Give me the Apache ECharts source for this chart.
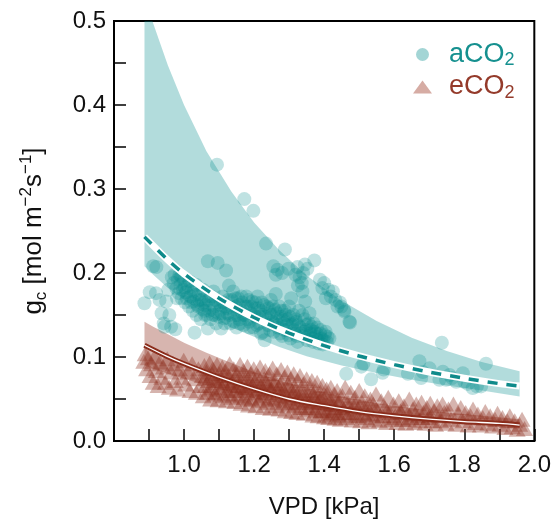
<!DOCTYPE html>
<html><head><meta charset="utf-8">
<script src="https://cdn.jsdelivr.net/npm/echarts@6/dist/echarts.min.js"></script>
<style>html,body{margin:0;padding:0;background:#fff}#c{width:554px;height:524px}</style>
</head><body><div id="c"></div>
<script>
// ---- data ----
const xTickLabels = ['1.0','1.2','1.4','1.6','1.8','2.0'];
const yTickLabels = ['0.0','0.1','0.2','0.3','0.4','0.5'];

// fitted curves
const fitVpd   = [0.887,0.95,1.0,1.1,1.2,1.3,1.4,1.5,1.6,1.7,1.8,1.9,1.958];
const aco2Fit  = [0.243,0.217,0.199,0.170,0.147,0.1285,0.1136,0.1012,0.0909,0.0821,0.0747,0.0683,0.0655];
const eco2Fit  = [0.114,0.101,0.092,0.076,0.062,0.050,0.042,0.035,0.030,0.026,0.023,0.021,0.019];

// confidence bands
const bandVpd    = [0.887,0.912,0.954,1.0,1.064,1.135,1.2,1.272,1.35,1.45,1.55,1.65,1.75,1.85,1.958];
const aco2Upper  = [0.530,0.497,0.447,0.400,0.345,0.297,0.260,0.227,0.197,0.167,0.143,0.123,0.107,0.094,0.083];
const aco2Lower  = [0.208,0.198,0.182,0.168,0.151,0.135,0.124,0.112,0.101,0.090,0.081,0.073,0.066,0.060,0.053];
const eco2Upper  = [0.142,0.136,0.127,0.117,0.105,0.093,0.082,0.072,0.063,0.053,0.045,0.039,0.034,0.030,0.026];
const eco2Lower  = [0.090,0.086,0.080,0.074,0.066,0.058,0.051,0.045,0.039,0.033,0.028,0.024,0.021,0.018,0.015];

// observations aCO2 [VPD, gc]
const aco2Points = [
[0.887,0.164],[0.902,0.177],[0.912,0.208],[0.921,0.207],[0.920,0.176],[0.930,0.168],[0.936,0.152],[0.949,0.166],[0.942,0.140],[0.944,0.136],[0.958,0.150],[0.963,0.136],[0.975,0.133],[0.955,0.180],
[0.965,0.195],[0.970,0.188],[0.973,0.198],[0.978,0.182],[0.982,0.192],[0.985,0.176],[0.987,0.198],[0.990,0.186],[0.993,0.170],[0.997,0.180],[1.000,0.191],[1.003,0.165],[1.006,0.177],[1.010,0.185],[1.014,0.160],[1.018,0.172],[1.022,0.180],[1.025,0.155],[1.028,0.166],[1.032,0.174],[1.036,0.150],[1.040,0.160],[1.044,0.168],[1.030,0.129],[1.048,0.145],[1.052,0.157],[1.056,0.165],[1.060,0.150],[1.064,0.172],[1.068,0.134],[1.068,0.214],[1.072,0.155],[1.076,0.145],[1.080,0.162],[1.084,0.178],[1.088,0.150],[1.092,0.140],[1.094,0.329],[1.096,0.212],[1.098,0.165],[1.102,0.155],[1.106,0.134],[1.110,0.172],[1.114,0.146],[1.118,0.160],[1.120,0.203],[1.124,0.152],[1.128,0.185],[1.132,0.140],[1.136,0.168],[1.140,0.178],[1.144,0.150],[1.148,0.160],[1.150,0.135],[1.154,0.170],[1.158,0.145],[1.162,0.155],[1.166,0.165],[1.170,0.138],[1.172,0.288],[1.174,0.150],[1.178,0.172],[1.182,0.160],[1.186,0.142],[1.190,0.152],[1.194,0.166],[1.198,0.274],[1.198,0.135],[1.202,0.158],[1.206,0.148],[1.210,0.172],[1.214,0.140],[1.218,0.155],[1.222,0.165],[1.226,0.130],[1.230,0.120],[1.232,0.148],[1.234,0.235],[1.236,0.160],[1.240,0.138],[1.244,0.152],[1.248,0.168],[1.252,0.142],[1.256,0.130],[1.260,0.156],[1.262,0.175],[1.264,0.145],[1.267,0.204],[1.268,0.135],[1.272,0.160],[1.276,0.148],[1.280,0.125],[1.284,0.140],[1.288,0.228],[1.288,0.155],[1.292,0.132],[1.296,0.145],[1.300,0.160],[1.304,0.122],[1.306,0.170],[1.308,0.138],[1.312,0.150],[1.316,0.128],[1.320,0.142],[1.324,0.207],[1.324,0.118],[1.328,0.155],[1.332,0.135],[1.336,0.188],[1.338,0.178],[1.340,0.200],[1.340,0.125],[1.344,0.145],[1.346,0.166],[1.348,0.132],[1.352,0.120],[1.356,0.140],[1.358,0.152],[1.360,0.128],[1.364,0.136],[1.368,0.118],[1.372,0.215],[1.372,0.130],[1.376,0.124],[1.380,0.135],[1.384,0.116],[1.388,0.128],[1.392,0.122],[1.396,0.115],[1.400,0.188],[1.402,0.126],[1.408,0.118],[1.415,0.122],[1.419,0.172],[1.425,0.178],[1.432,0.168],[1.438,0.160],[1.445,0.165],[1.449,0.160],[1.457,0.156],[1.458,0.154],[1.472,0.142],[1.474,0.141],[1.412,0.180],[1.405,0.170],[1.395,0.182],[1.388,0.192],[1.330,0.195],[1.325,0.185],[1.318,0.198],[1.345,0.210],[1.352,0.205],[1.298,0.205],[1.280,0.200],[1.262,0.198],[1.255,0.208],
[0.980,0.170],[0.992,0.196],[1.002,0.183],[1.008,0.170],[1.016,0.190],[1.020,0.165],[1.027,0.178],[1.034,0.186],[1.038,0.162],[1.042,0.175],[1.050,0.168],[1.054,0.180],[1.058,0.155],[1.062,0.162],[1.066,0.150],[1.070,0.168],[1.078,0.172],[1.082,0.150],[1.086,0.160],[1.090,0.168],[1.100,0.148],[1.104,0.162],[1.108,0.152],[1.112,0.165],[1.116,0.140],[1.122,0.158],[1.126,0.168],[1.130,0.150],[1.138,0.158],[1.142,0.142],[1.146,0.170],[1.152,0.150],[1.156,0.162],[1.160,0.140],[1.164,0.172],[1.168,0.150],[1.176,0.160],[1.180,0.145],[1.184,0.168],[1.188,0.135],[1.192,0.160],[1.200,0.150],[1.204,0.165],[1.208,0.138],[1.212,0.158],[1.216,0.148],[1.220,0.128],[1.224,0.150],[1.228,0.162],[1.238,0.145],[1.242,0.158],[1.246,0.132],[1.250,0.150],[1.254,0.160],[1.258,0.140],[1.266,0.152],[1.270,0.138],[1.274,0.128],[1.278,0.155],[1.282,0.145],[1.286,0.132],[1.290,0.150],[1.294,0.138],[1.298,0.126],[1.302,0.148],[1.310,0.140],[1.314,0.132],[1.318,0.145],[1.322,0.125],[1.326,0.138],[1.334,0.128],[1.338,0.150],[1.342,0.130],[1.350,0.138],[1.354,0.125],[1.362,0.132],[1.366,0.122],[1.370,0.140],[1.378,0.128],[1.382,0.120],[1.390,0.132],[1.398,0.120],[1.404,0.130],[1.410,0.124],
[1.463,0.080],[1.506,0.0885],[1.512,0.092],[1.534,0.0734],[1.567,0.0813],[1.570,0.085],[1.639,0.080],[1.672,0.095],[1.677,0.075],[1.682,0.082],[1.701,0.0865],[1.729,0.073],[1.736,0.117],[1.739,0.0825],[1.748,0.073],[1.758,0.0786],[1.765,0.075],[1.777,0.0706],[1.796,0.0806],[1.800,0.0706],[1.810,0.068],[1.824,0.063],[1.836,0.065],[1.848,0.065],[1.862,0.092]
];

// observations eCO2 [VPD, gc]
const eco2Points = [
[0.885,0.095],[0.889,0.104],[0.893,0.086],[0.898,0.099],[0.903,0.078],[0.907,0.092],[0.912,0.070],[0.916,0.101],[0.921,0.084],[0.926,0.066],[0.931,0.094],[0.936,0.076],[0.941,0.088],[0.947,0.070],[0.952,0.098],[0.958,0.064],[0.963,0.082],[0.969,0.092],[0.975,0.072],[0.981,0.062],[0.987,0.086],[0.993,0.076],[0.999,0.096],[1.005,0.068],[1.011,0.082],[1.017,0.060],[1.023,0.092],[1.029,0.074],[1.035,0.058],[1.041,0.086],[1.047,0.066],
[1.052,0.078],[1.055,0.054],[1.058,0.090],[1.061,0.066],[1.064,0.082],[1.067,0.058],[1.070,0.072],[1.073,0.093],[1.076,0.050],[1.079,0.064],[1.082,0.086],[1.085,0.076],[1.088,0.056],[1.091,0.070],[1.094,0.091],[1.097,0.049],[1.100,0.080],[1.103,0.062],[1.106,0.074],[1.109,0.088],[1.112,0.054],[1.115,0.068],[1.118,0.084],[1.121,0.048],[1.124,0.060],[1.127,0.078],[1.130,0.092],[1.133,0.066],[1.136,0.052],[1.139,0.072],[1.142,0.086],[1.145,0.047],[1.148,0.062],
[1.151,0.080],[1.154,0.056],[1.157,0.070],[1.160,0.091],[1.163,0.045],[1.166,0.064],[1.169,0.084],[1.172,0.052],[1.175,0.074],[1.178,0.060],[1.181,0.089],[1.184,0.043],[1.187,0.068],[1.190,0.080],[1.193,0.050],[1.196,0.058],[1.199,0.086],[1.202,0.072],[1.205,0.042],[1.208,0.062],[1.211,0.078],[1.214,0.048],[1.217,0.088],[1.220,0.066],[1.223,0.054],[1.226,0.040],[1.229,0.074],[1.232,0.084],[1.235,0.058],[1.238,0.046],[1.241,0.068],[1.244,0.080],[1.247,0.039],
[1.250,0.062],[1.253,0.087],[1.256,0.050],[1.259,0.072],[1.262,0.042],[1.265,0.080],[1.268,0.058],[1.271,0.038],[1.274,0.068],[1.277,0.085],[1.280,0.048],[1.283,0.062],[1.286,0.076],[1.289,0.036],[1.292,0.054],[1.295,0.082],[1.298,0.044],[1.301,0.066],[1.304,0.074],[1.307,0.035],[1.310,0.056],[1.313,0.080],[1.316,0.046],[1.319,0.062],[1.322,0.034],[1.325,0.072],[1.328,0.052],[1.331,0.078],[1.334,0.040],[1.337,0.060],[1.340,0.068],[1.343,0.033],[1.346,0.048],
[1.350,0.074],[1.353,0.056],[1.356,0.038],[1.359,0.064],[1.362,0.046],[1.365,0.072],[1.368,0.031],[1.371,0.052],[1.374,0.060],[1.377,0.040],[1.380,0.070],[1.383,0.030],[1.386,0.048],[1.389,0.058],[1.392,0.036],[1.395,0.066],[1.398,0.044],[1.401,0.029],[1.404,0.054],[1.407,0.062],[1.410,0.038],[1.413,0.028],[1.416,0.050],[1.419,0.064],[1.422,0.034],[1.425,0.044],[1.428,0.056],[1.431,0.027],[1.434,0.040],[1.437,0.060],[1.440,0.032],[1.443,0.048],[1.446,0.026],
[1.452,0.054],[1.456,0.038],[1.460,0.064],[1.464,0.028],[1.468,0.046],[1.472,0.034],[1.476,0.058],[1.480,0.025],[1.484,0.042],[1.488,0.052],[1.492,0.030],[1.496,0.038],[1.500,0.060],[1.504,0.024],[1.508,0.046],[1.512,0.034],[1.516,0.054],[1.520,0.028],[1.524,0.040],[1.528,0.023],[1.532,0.050],[1.536,0.032],[1.540,0.044],[1.544,0.026],[1.548,0.056],
[1.553,0.036],[1.558,0.024],[1.563,0.048],[1.568,0.030],[1.573,0.040],[1.578,0.022],[1.583,0.052],[1.588,0.034],[1.593,0.026],[1.598,0.044],[1.603,0.030],[1.608,0.022],[1.613,0.048],[1.618,0.036],[1.623,0.026],[1.628,0.042],[1.633,0.021],[1.638,0.032],[1.643,0.050],[1.648,0.028],[1.653,0.038],[1.658,0.022],[1.663,0.044],[1.668,0.030],[1.673,0.024],[1.678,0.046],[1.683,0.034],[1.688,0.021],[1.693,0.040],[1.698,0.028],[1.703,0.045],[1.708,0.024],[1.713,0.036],[1.718,0.020],[1.723,0.042],[1.728,0.030],[1.733,0.024],[1.738,0.044],[1.743,0.034],[1.748,0.021],
[1.755,0.038],[1.762,0.026],[1.769,0.044],[1.776,0.020],[1.783,0.032],[1.790,0.040],[1.797,0.024],[1.804,0.034],[1.811,0.019],[1.818,0.030],[1.825,0.038],[1.832,0.022],[1.839,0.032],[1.846,0.019],[1.853,0.028],[1.860,0.035],[1.867,0.021],[1.874,0.030],[1.881,0.018],[1.888,0.026],[1.895,0.033],[1.902,0.020],[1.909,0.028],[1.916,0.016],[1.923,0.024],[1.930,0.030],[1.937,0.017],[1.944,0.024],[1.951,0.014],[1.958,0.020],[1.965,0.026],[1.972,0.015],
[1.060,0.075],[1.072,0.062],[1.080,0.080],[1.092,0.058],[1.098,0.072],[1.108,0.064],[1.116,0.078],[1.126,0.056],[1.132,0.070],[1.140,0.060],[1.146,0.076],[1.156,0.066],[1.162,0.054],[1.168,0.074],[1.176,0.064],[1.182,0.050],[1.188,0.072],[1.196,0.066],[1.204,0.056],[1.212,0.070],[1.218,0.052],[1.226,0.062],[1.234,0.070],[1.242,0.050],[1.248,0.060],[1.256,0.068],[1.262,0.052],[1.270,0.064],[1.278,0.056],[1.285,0.046],[1.292,0.064],[1.300,0.050],[1.308,0.060],[1.315,0.042],[1.322,0.056],[1.330,0.046],[1.338,0.054],[1.345,0.040],[1.352,0.050],[1.360,0.042],[1.368,0.056],[1.375,0.036],[1.382,0.046],[1.390,0.052],[1.398,0.036],[1.405,0.046],[1.412,0.032],[1.420,0.044],[1.428,0.036],[1.436,0.048],[1.444,0.030],[1.452,0.040],[1.460,0.034],[1.470,0.042],[1.480,0.032],[1.490,0.044],[1.500,0.030],[1.512,0.040],[1.525,0.032],[1.540,0.038],[1.560,0.030],[1.580,0.036],[1.600,0.028],[1.620,0.034],[1.640,0.026],[1.660,0.032],[1.680,0.028],[1.700,0.030]
];

// ---- styles ----
const FONT = "'Liberation Sans', Arial, Helvetica, sans-serif";
const TEAL = '#008b8b';
const TEAL_TEXT = '#15908f';
const BROWN = '#8b2d1c';
const BROWN_TEXT = '#943a2a';

const chart = echarts.init(document.getElementById('c'), null, {renderer: 'canvas'});

const pairs = (xs, ys) => xs.map((x, i) => [x, ys[i]]);

// band polygon drawn through the cartesian scales (api.coord)
function bandSeries(name, xs, hi, lo, color) {
  return {
    name: name, type: 'custom', clip: true, silent: true, z: 1,
    data: [[xs[0], lo[0]]],
    renderItem: function (params, api) {
      const pts = [];
      for (let i = 0; i < xs.length; i++) pts.push(api.coord([xs[i], hi[i]]));
      for (let i = xs.length - 1; i >= 0; i--) pts.push(api.coord([xs[i], lo[i]]));
      return {type: 'polygon', shape: {points: pts}, style: {fill: color, stroke: null}};
    }
  };
}

const legendRich = (color) => ({
  m: {fontSize: 27, fontFamily: FONT, color: color, lineHeight: 30, padding: [0, 0, 0, 12]},
  s: {fontSize: 18, fontFamily: FONT, color: color, lineHeight: 12, verticalAlign: 'bottom'}
});

chart.setOption({
  animation: false,
  grid: {left: 114, right: 19, top: 21, bottom: 83, show: true, borderColor: '#000', borderWidth: 2, backgroundColor: 'transparent'},
  xAxis: {
    type: 'value', min: 0.8, max: 2.0, interval: 0.1,
    name: 'VPD [kPa]', nameLocation: 'middle', nameGap: 54,
    nameTextStyle: {fontSize: 24, fontFamily: FONT, color: '#111'},
    axisLine: {show: true, onZero: false, lineStyle: {color: '#000', width: 2}},
    axisTick: {show: true, inside: true, length: 12, lineStyle: {color: '#000', width: 1.5}},
    axisLabel: {
      margin: 12, fontSize: 24, fontFamily: FONT, color: '#111',
      formatter: function (v) {
        const s = v.toFixed(1);
        return xTickLabels.indexOf(s) >= 0 ? s : '';
      }
    },
    splitLine: {show: false}
  },
  yAxis: {
    type: 'value', min: 0, max: 0.5, interval: 0.1,
    name: '{g|g}{sub|c}{t| [mol m}{sup|−2}{t|s}{sup|−1}{t|]}',
    nameLocation: 'middle', nameGap: 64,
    nameTextStyle: {
      fontSize: 26, fontFamily: FONT, color: '#111',
      rich: {
        g: {fontSize: 26, fontFamily: FONT, color: '#111', lineHeight: 32},
        t: {fontSize: 26, fontFamily: FONT, color: '#111', lineHeight: 32},
        sub: {fontSize: 17, fontFamily: FONT, color: '#111', lineHeight: 21, verticalAlign: 'bottom'},
        sup: {fontSize: 17, fontFamily: FONT, color: '#111', lineHeight: 17, verticalAlign: 'top'}
      }
    },
    axisLine: {show: true, onZero: false, lineStyle: {color: '#000', width: 2}},
    axisTick: {show: true, inside: true, length: 12, lineStyle: {color: '#000', width: 1.5}},
    minorTick: {show: true, splitNumber: 2, length: 12, lineStyle: {color: '#000', width: 1.5}},
    axisLabel: {
      margin: 8, fontSize: 24, fontFamily: FONT, color: '#111',
      formatter: function (v) {
        const s = v.toFixed(1);
        return yTickLabels.indexOf(s) >= 0 ? s : '';
      }
    },
    splitLine: {show: false}
  },
  legend: {
    orient: 'vertical', left: 413, top: 41, itemGap: 4, padding: 0,
    itemWidth: 19, itemHeight: 13,
    selectedMode: false,
    textStyle: {fontFamily: FONT, fontSize: 27},
    formatter: function (name) { return '{m|' + name.slice(0, 3) + '}{s|2}'; },
    data: [
      {name: 'aCO2', icon: 'circle', itemStyle: {color: '#a3d5d5', opacity: 1},
       textStyle: {color: TEAL_TEXT, rich: legendRich(TEAL_TEXT)}},
      {name: 'eCO2', icon: 'triangle', itemStyle: {color: '#d6aca4', opacity: 1},
       textStyle: {color: BROWN_TEXT, rich: legendRich(BROWN_TEXT)}}
    ]
  },
  series: [
    bandSeries('aBand', bandVpd, aco2Upper, aco2Lower, 'rgba(0,139,139,0.30)'),
    bandSeries('eBand', bandVpd, eco2Upper, eco2Lower, 'rgba(150,60,45,0.38)'),
    {name: 'aCO2', type: 'scatter', data: aco2Points, symbol: 'circle', symbolSize: 14,
     itemStyle: {color: TEAL, opacity: 0.25}, z: 2},
    {name: 'eCO2', type: 'scatter', data: eco2Points, symbol: 'triangle', symbolSize: [17, 15],
     itemStyle: {color: '#8e2f1e', opacity: 0.36}, z: 2},
    {name: 'aFitWhite', type: 'line', data: pairs(fitVpd, aco2Fit), symbol: 'none', smooth: 0.3,
     lineStyle: {color: '#fff', width: 7}, silent: true, z: 3},
    {name: 'aFit', type: 'line', data: pairs(fitVpd, aco2Fit), symbol: 'none', smooth: 0.3,
     lineStyle: {color: '#0e8a8a', width: 3.5, type: [10, 9]}, silent: true, z: 4},
    {name: 'eFit', type: 'line', data: pairs(fitVpd, eco2Fit), symbol: 'none', smooth: 0.3,
     lineStyle: {color: BROWN, width: 5}, silent: true, z: 3},
    {name: 'eFitWhite', type: 'line', data: pairs(fitVpd, eco2Fit), symbol: 'none', smooth: 0.3,
     lineStyle: {color: '#fff', width: 1.3}, silent: true, z: 4}
  ]
});
</script>
</body></html>
